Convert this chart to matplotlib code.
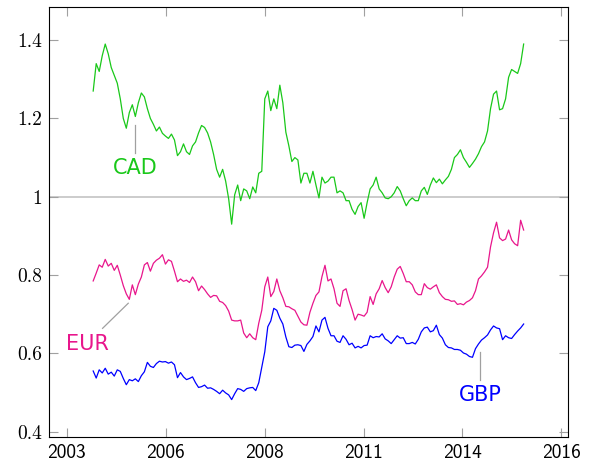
import matplotlib
matplotlib.use("Agg")
import matplotlib.pyplot as plt
import numpy as np

# monthly samples, Jan 2004 .. Dec 2015 (units per USD)
START_YEAR = 2004

CAD = [
    1.27, 1.34, 1.32, 1.36, 1.39, 1.365, 1.33, 1.31, 1.29, 1.25, 1.20, 1.175,
    1.215, 1.235, 1.205, 1.24, 1.265, 1.255, 1.225, 1.20, 1.185, 1.168, 1.178, 1.162,
    1.155, 1.149, 1.16, 1.145, 1.105, 1.115, 1.135, 1.115, 1.108, 1.13, 1.14, 1.163,
    1.182, 1.177, 1.163, 1.14, 1.108, 1.07, 1.05, 1.07, 1.04, 0.995, 0.93, 1.005,
    1.03, 0.99, 1.02, 1.015, 0.995, 1.025, 1.01, 1.06, 1.065, 1.25, 1.27, 1.22,
    1.25, 1.225, 1.285, 1.24, 1.165, 1.13, 1.09, 1.10, 1.094, 1.035, 1.06, 1.06,
    1.035, 1.065, 1.03, 0.997, 1.05, 1.035, 1.04, 1.05, 1.05, 1.01, 1.015, 1.01,
    0.99, 0.99, 0.968, 0.955, 0.975, 0.985, 0.945, 0.985, 1.02, 1.03, 1.05, 1.02,
    1.01, 0.997, 0.995, 1.0, 1.01, 1.026, 1.015, 0.995, 0.977, 0.99, 0.997, 0.99,
    0.99, 1.015, 1.024, 1.006, 1.03, 1.048, 1.036, 1.045, 1.033, 1.043, 1.052, 1.07,
    1.10, 1.108, 1.12, 1.10, 1.088, 1.075, 1.085, 1.096, 1.11, 1.128, 1.14, 1.168,
    1.225, 1.262, 1.27, 1.222, 1.225, 1.25, 1.305, 1.325, 1.32, 1.315, 1.34, 1.39,
]

EUR = [
    0.785, 0.805, 0.826, 0.82, 0.84, 0.823, 0.83, 0.812, 0.825, 0.80, 0.773, 0.752,
    0.738, 0.775, 0.75, 0.777, 0.795, 0.826, 0.832, 0.81, 0.83, 0.838, 0.843, 0.852,
    0.828, 0.839, 0.835, 0.81, 0.783, 0.79, 0.784, 0.787, 0.781, 0.795, 0.783, 0.76,
    0.772, 0.763, 0.752, 0.743, 0.748, 0.747, 0.733, 0.73, 0.722, 0.708, 0.685, 0.683,
    0.683, 0.685, 0.652, 0.64, 0.65, 0.64, 0.635, 0.677, 0.71, 0.77, 0.795, 0.745,
    0.758, 0.79, 0.76, 0.742, 0.72, 0.719, 0.714, 0.71, 0.695, 0.68, 0.673, 0.672,
    0.705, 0.728, 0.748, 0.757, 0.796, 0.825, 0.785, 0.79, 0.765, 0.728, 0.72, 0.76,
    0.765, 0.735, 0.712, 0.685, 0.70, 0.698, 0.695, 0.705, 0.745, 0.725, 0.752, 0.765,
    0.786, 0.768, 0.755, 0.77, 0.795, 0.815, 0.822, 0.804, 0.783, 0.783, 0.775, 0.757,
    0.75, 0.75, 0.778, 0.768, 0.764, 0.77, 0.775, 0.755, 0.745, 0.738, 0.737, 0.733,
    0.734, 0.725, 0.727, 0.724, 0.731, 0.735, 0.742, 0.76, 0.79, 0.798, 0.808, 0.82,
    0.872, 0.908, 0.935, 0.895, 0.888, 0.892, 0.915, 0.89, 0.88, 0.875, 0.94, 0.915,
]

GBP = [
    0.555, 0.537, 0.558, 0.55, 0.562, 0.547, 0.552, 0.542, 0.558, 0.554, 0.536, 0.52,
    0.533, 0.53, 0.535, 0.528, 0.543, 0.553, 0.577, 0.567, 0.564, 0.574, 0.58, 0.578,
    0.579, 0.575, 0.578, 0.571, 0.538, 0.551, 0.54, 0.533, 0.536, 0.54, 0.525, 0.513,
    0.515, 0.519, 0.511, 0.512, 0.508, 0.503, 0.497, 0.506, 0.499, 0.494, 0.482, 0.497,
    0.51, 0.508, 0.503, 0.51, 0.512, 0.513, 0.505, 0.525, 0.565, 0.604, 0.668, 0.683,
    0.715, 0.71, 0.69, 0.675, 0.642, 0.617, 0.615, 0.621, 0.622, 0.62, 0.605, 0.623,
    0.632, 0.643, 0.67, 0.655, 0.685, 0.692, 0.664, 0.645, 0.645, 0.631, 0.628, 0.645,
    0.636, 0.622, 0.626, 0.614, 0.618, 0.614, 0.62, 0.621, 0.645, 0.64, 0.643, 0.642,
    0.65, 0.637, 0.632, 0.625, 0.635, 0.645, 0.639, 0.64, 0.625, 0.625, 0.628, 0.624,
    0.636, 0.655, 0.665, 0.667, 0.655, 0.658, 0.672, 0.648, 0.639, 0.622, 0.615, 0.614,
    0.61, 0.61, 0.608, 0.601, 0.598, 0.592, 0.59, 0.612, 0.624, 0.634, 0.64, 0.647,
    0.66, 0.67, 0.665, 0.663, 0.635, 0.645, 0.64, 0.638, 0.648, 0.657, 0.665, 0.675,
]

X_TICKS = [2003.27, 2006.01, 2008.75, 2011.49, 2014.22, 2016.96]
X_LABELS = ["2003", "2006", "2008", "2011", "2014", "2016"]
Y_TICKS = [0.4, 0.6, 0.8, 1.0, 1.2, 1.4]
Y_LABELS = ["0.4", "0.6", "0.8", "1", "1.2", "1.4"]

GREEN = "#19c819"
PINK = "#e8168c"
BLUE = "#0000ff"
GREY = "#a0a0a0"

years = START_YEAR + np.arange(len(CAD)) / 12.0

fig = plt.figure(figsize=(5.93, 4.68), dpi=100)
ax = fig.add_axes([0.0826, 0.0652, 0.876, 0.920])

ax.axhline(1.0, color="#c4c4c4", linewidth=1.2, zorder=1)

ax.plot(years, CAD, color=GREEN, linewidth=0.9, zorder=3)
ax.plot(years, EUR, color=PINK, linewidth=0.9, zorder=3)
ax.plot(years, GBP, color=BLUE, linewidth=0.9, zorder=3)

# label pointers
ax.plot([2005.17, 2005.17], [1.182, 1.113], color=GREY, linewidth=0.9, zorder=2)
ax.text(2005.17, 1.073, "CAD", color=GREEN, fontsize=15, ha="center", va="center",
        family="DejaVu Sans")
ax.plot([2004.97, 2004.26], [0.728, 0.664], color=GREY, linewidth=0.9, zorder=2)
ax.text(2003.83, 0.623, "EUR", color=PINK, fontsize=15, ha="center", va="center",
        family="DejaVu Sans")
ax.plot([2014.72, 2014.72], [0.604, 0.532], color=GREY, linewidth=0.9, zorder=2)
ax.text(2014.72, 0.494, "GBP", color=BLUE, fontsize=15, ha="center", va="center",
        family="DejaVu Sans")

ax.set_xlim(2002.776, 2017.157)
ax.set_ylim(0.3852, 1.4848)

ax.set_xticks(X_TICKS)
ax.set_xticklabels(X_LABELS, family="cmss10", fontsize=14)
ax.set_yticks(Y_TICKS)
ax.set_yticklabels(Y_LABELS, family="cmr10", fontsize=14)
ax.tick_params(direction="in", length=6.5, width=0.8, color=GREY,
               top=True, right=True, pad=5)

for sp in ax.spines.values():
    sp.set_linewidth(0.8)
    sp.set_color("black")

fig.savefig("out.png", dpi=100)
